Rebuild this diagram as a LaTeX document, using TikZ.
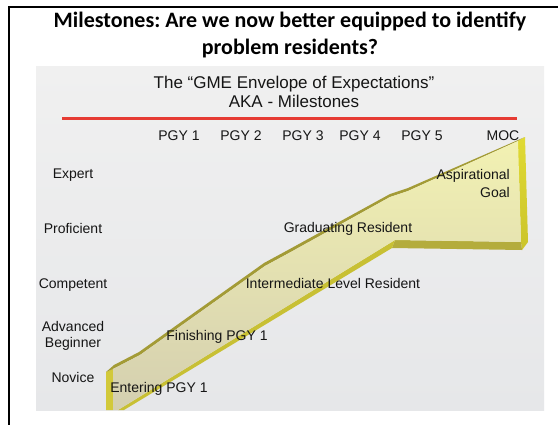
\documentclass[tikz,border=0pt]{standalone}
\usepackage{fontspec}
\setmainfont{Liberation Sans}
\newfontfamily\headfont{Carlito}
\frenchspacing
\begin{document}
\begin{tikzpicture}[x=1pt,y=-1pt,
  lbl/.style={font=\fontsize{14}{16}\selectfont, text=ink, inner sep=0pt, anchor=base},
  head/.style={font=\headfont\bfseries\fontsize{22}{24}\selectfont, text=black, inner sep=0pt, anchor=base},
  subhead/.style={font=\fontsize{17}{19}\selectfont, text=ink, inner sep=0pt, anchor=base}]
\definecolor{ink}{HTML}{151515}
\definecolor{rule}{HTML}{E63B33}
\definecolor{topband}{HTML}{A39B36}
\definecolor{sideR}{HTML}{E0DA34}
\definecolor{sideRdark}{HTML}{CBC42A}
\definecolor{sideL}{HTML}{D2C93A}
\definecolor{under}{HTML}{B4AC3C}
\definecolor{slopeband}{HTML}{C8C034}
\definecolor{faceHi}{HTML}{F2F1B2}
\definecolor{faceMid}{HTML}{E2DFA8}
\definecolor{faceLo}{HTML}{D4CFB0}
\definecolor{panelA}{HTML}{F0F0F0}
\definecolor{panelB}{HTML}{FDFDFD}
\definecolor{panelC}{HTML}{E6E7E9}

\useasboundingbox (0,0) rectangle (558,424);
\clip (0,0) rectangle (558,424);
\fill[white] (0,0) rectangle (558,424);

% slide frame
\draw[line width=2pt, black] (9,6.5) rectangle (640,500);

% slide title
\node[head] (t1) at (290,27.5) {Milestones: Are we now better equipped to identify};
\node[head] (t2) at (290,54) {problem residents?};

% chart panel
\shade[shading angle=45, top color=panelA, middle color=panelB, bottom color=panelC]
  (36,66) rectangle (544,410);

\node[subhead] (s1) at (294,88) {The “GME Envelope of Expectations”};
\node[subhead] (s2) at (294,107) {AKA - Milestones};
\draw[line width=3pt, rule] (62,118) -- (517,118);

% year columns
\node[lbl] (y1) at (179,140) {PGY 1};
\node[lbl] (y2) at (241,140) {PGY 2};
\node[lbl] (y3) at (303,140) {PGY 3};
\node[lbl] (y4) at (360,140) {PGY 4};
\node[lbl] (y5) at (422,140) {PGY 5};
\node[lbl] (y6) at (503,140) {MOC};

% ribbon outline points: F = front face, G = upper rim, H = lower rim
\coordinate (F1) at (113,369);
\coordinate (F2) at (140,355);
\coordinate (F3) at (265,266);
\coordinate (F4) at (289,253);
\coordinate (F5) at (390,197);
\coordinate (F6) at (408,191);
\coordinate (F7) at (518,141);
\coordinate (F8) at (521,242);
\coordinate (F9) at (395,240);
\coordinate (F10) at (118,410);
\coordinate (F11) at (113,410);
\coordinate (G0) at (106,372);
\coordinate (G1) at (114,365);
\coordinate (G2) at (139,352);
\coordinate (G3) at (264,263);
\coordinate (G4) at (288,250);
\coordinate (G5) at (390,194);
\coordinate (G6) at (408,188);
\coordinate (G7) at (525,137);
\coordinate (G8) at (528,242);
\coordinate (H8) at (522,250);
\coordinate (H9) at (392,248);
\coordinate (H10) at (124,410);
\coordinate (G11) at (106,410);

% side faces
\fill[sideL] (G0) -- (F1) -- (F11) -- (G11) -- cycle;
\fill[topband] (G0) -- (G1) -- (G2) -- (G3) -- (G4) -- (G5) -- (G6) -- (G7)
  -- (F7) -- (F6) -- (F5) -- (F4) -- (F3) -- (F2) -- (F1) -- cycle;
\shade[top color=sideR, bottom color=sideRdark] (F7) -- (G7) -- (G8) -- (H8) -- (F8) -- cycle;
\fill[under] (F8) -- (H8) -- (H9) -- (F9) -- cycle;
\fill[slopeband] (F9) -- (H9) -- (H10) -- (F10) -- cycle;

% front face
\shade[shading angle=-45, top color=faceHi, middle color=faceMid, bottom color=faceLo]
  (F1) -- (F2) -- (F3) -- (F4) -- (F5) -- (F6) -- (F7) -- (F8) -- (F9) -- (F10) -- (F11) -- cycle;

% competence levels
\node[lbl] (l5) at (73,178) {Expert};
\node[lbl] (l4) at (73,233) {Proficient};
\node[lbl] (l3) at (73,288) {Competent};
\node[lbl] (l2a) at (73,331) {Advanced};
\node[lbl] (l2b) at (73,347) {Beginner};
\node[lbl] (l1) at (73,382) {Novice};

% stages along the ribbon
\node[lbl, anchor=base east] (m5a) at (510,179) {Aspirational};
\node[lbl, anchor=base east] (m5b) at (510,197) {Goal};
\node[lbl] (m4) at (348,232) {Graduating Resident};
\node[lbl] (m3) at (333,288) {Intermediate Level Resident};
\node[lbl] (m2) at (217,340) {Finishing PGY 1};
\node[lbl] (m1) at (159,392) {Entering PGY 1};
\end{tikzpicture}
\end{document}
